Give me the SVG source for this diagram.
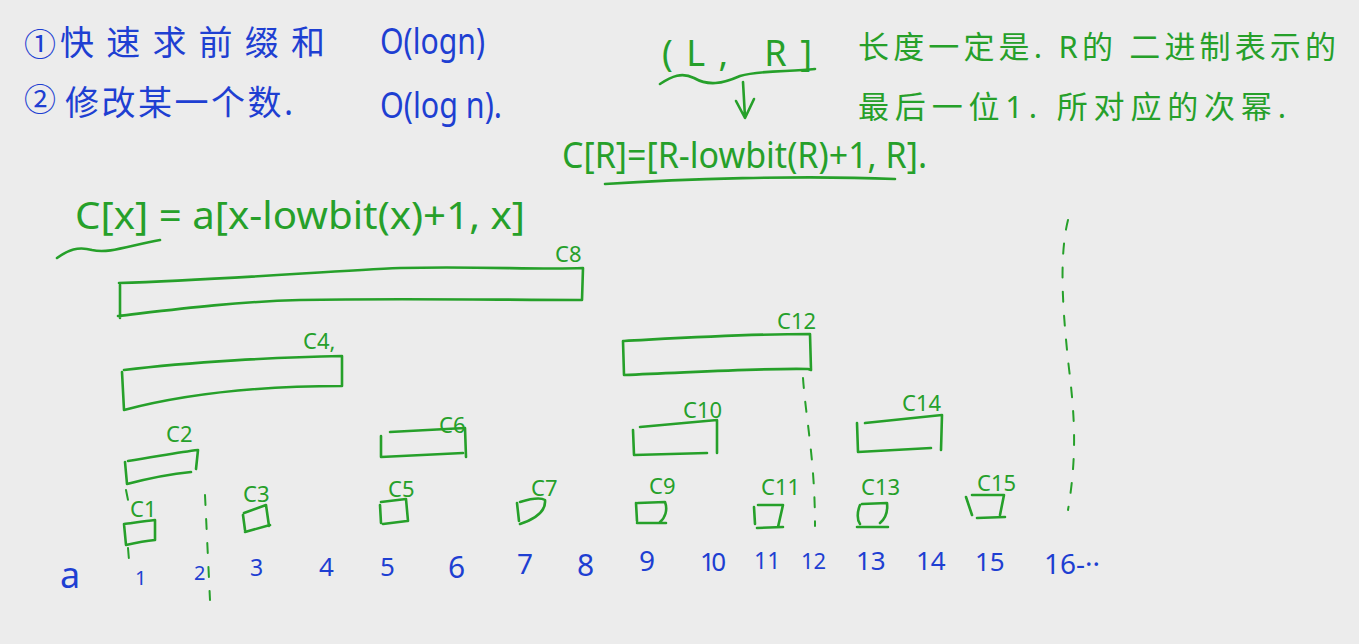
<svg xmlns="http://www.w3.org/2000/svg" width="1359" height="644" viewBox="0 0 1359 644">
<style>
.g{fill:none;stroke:#26a02a;stroke-width:2.6;stroke-linecap:round;stroke-linejoin:round}
.d{fill:none;stroke:#26a02a;stroke-width:2;stroke-linecap:round;stroke-dasharray:10 14}
.gt{fill:#26a02a;font-family:"Noto Sans","Noto Sans CJK SC",sans-serif}
.bt{fill:#1e3fd2;font-family:"Noto Sans","Noto Sans CJK SC",sans-serif}
.lbl{fill:#26a02a;font-family:"Noto Sans",sans-serif;font-size:22px}
.num{fill:#1e3fd2;font-family:"Noto Sans",sans-serif}
</style>
<rect width="1359" height="644" fill="#ececec"/>
<g id="notes-blue">
<text class="bt" x="24" y="56" font-size="32">①</text>
<text class="bt" x="60" y="55" font-size="34" textLength="265" lengthAdjust="spacing">快速求前缀和</text>
<text class="bt" x="380" y="54" font-size="36" textLength="105" lengthAdjust="spacingAndGlyphs">O(logn)</text>
<text class="bt" x="24" y="111" font-size="32">②</text>
<text class="bt" x="65" y="115" font-size="34" textLength="228" lengthAdjust="spacing">修改某一个数.</text>
<text class="bt" x="380" y="118" font-size="36" textLength="122" lengthAdjust="spacingAndGlyphs">O(log n).</text>
</g>
<g id="notes-green">
<text class="gt" x="662" y="66" font-size="36" textLength="150" lengthAdjust="spacing">(L, R]</text>
<text class="gt" x="858" y="58" font-size="31" textLength="478" lengthAdjust="spacing">长度一定是. R的 二进制表示的</text>
<text class="gt" x="858" y="118" font-size="31" textLength="428" lengthAdjust="spacing">最后一位1. 所对应的次幂.</text>
<text class="gt" x="562" y="168" font-size="36" textLength="365" lengthAdjust="spacingAndGlyphs">C[R]=[R-lowbit(R)+1, R].</text>
<text class="gt" x="75" y="229" font-size="38" textLength="450" lengthAdjust="spacingAndGlyphs">C[x] = a[x-lowbit(x)+1, x]</text>
<path class="g" d="M660,84 C672,76 682,72 694,78 C708,86 722,84 740,76 C760,70 790,72 815,69"/>
<path class="g" d="M605,184 C680,179 800,175 895,179"/>
<path class="g" d="M57,258 C68,250 78,246 92,250 C108,254 128,246 160,240"/>
</g>
<g id="connectors">
<path class="g" d="M743,82 L745,117 M736,101 L745,118 L754,99"/>
<path class="d" d="M205,495 L210,600"/>
<path class="d" d="M126,490 L128,500 M128,548 L129,560"/>
<path class="d" d="M803,378 C806,420 815,460 815,526"/>
<path class="d" d="M1068,220 C1058,260 1064,320 1068,360 C1074,410 1078,450 1068,510"/>
</g>
<g id="C8"><path class="g" d="M120,285 L120,318 M119,283 C220,280 330,271 400,268 C480,266 540,270 583,268 L582,300 C500,300 400,298 300,300 C230,302 170,310 118,316"/><text class="lbl" x="555" y="262">C8</text></g>
<g id="C4"><path class="g" d="M122,372 L124,410 M124,370 C190,362 280,357 342,356 L342,386 C280,386 200,390 124,410"/><text class="lbl" x="303" y="349">C4,</text></g>
<g id="C2"><path class="g" d="M125,462 L127,484 M128,461 C160,456 180,452 198,450 L196,469 M127,484 C150,478 170,474 191,472"/><text class="lbl" x="166" y="442">C2</text></g>
<g id="C6"><path class="g" d="M381,436 L381,457 L463,453 M390,432 L465,428 L466,457"/><text class="lbl" x="439" y="433">C6</text></g>
<g id="C12"><path class="g" d="M623,341 L624,375 C700,372 760,368 808,369 L811,370 L810,334 C740,334 680,338 624,341"/><text class="lbl" x="777" y="329">C12</text></g>
<g id="C10"><path class="g" d="M633,430 L634,455 L707,453 M640,427 L717,420 L717,453"/><text class="lbl" x="683" y="418">C10</text></g>
<g id="C14"><path class="g" d="M857,423 L858,452 L931,448 M865,423 L942,415 L941,450"/><text class="lbl" x="902" y="411">C14</text></g>
<g id="C1"><path class="g" d="M124,524 L126,545 C135,543 145,541 155,540 L155,520 C145,521 132,523 124,524"/><text class="lbl" x="130" y="517">C1</text></g>
<g id="C3"><path class="g" d="M243,515 L245,530 M244,513 L266,505 L269,526 M245,532 L270,525"/><text class="lbl" x="243" y="502">C3</text></g>
<g id="C5"><path class="g" d="M380,505 L381,523 M381,502 L406,499 L408,521 M383,524 L407,521"/><text class="lbl" x="388" y="497">C5</text></g>
<g id="C7"><path class="g" d="M517,503 L519,521 M520,502 C530,499 540,497 545,500 C546,510 538,518 520,524"/><text class="lbl" x="531" y="496">C7</text></g>
<g id="C9"><path class="g" d="M636,503 L637,521 M638,503 L665,502 C668,510 665,518 660,522 M637,523 L666,523"/><text class="lbl" x="649" y="494">C9</text></g>
<g id="C11"><path class="g" d="M754,507 L755,524 M758,505 L783,505 L778,527 M757,528 L783,527"/><text class="lbl" x="761" y="495">C11</text></g>
<g id="C13"><path class="g" d="M860,505 C857,512 857,520 860,524 M862,504 L887,503 C888,512 886,518 880,523 M857,527 L888,527"/><text class="lbl" x="861" y="495">C13</text></g>
<g id="C15"><path class="g" d="M966,497 L972,515 M972,495 L1004,495 L1000,515 M977,518 L1005,517"/><text class="lbl" x="977" y="491">C15</text></g>
<g id="array" font-size="26">
<text class="num" x="60" y="588" font-size="36">a</text>
<text class="num" x="135" y="585" font-size="20">1</text>
<text class="num" x="194" y="580" font-size="20">2</text>
<text class="num" x="250" y="576" font-size="23">3</text>
<text class="num" x="319" y="576">4</text>
<text class="num" x="380" y="576">5</text>
<text class="num" x="448" y="578" font-size="30">6</text>
<text class="num" x="517" y="574" font-size="28">7</text>
<text class="num" x="577" y="576" font-size="30">8</text>
<text class="num" x="639" y="571" font-size="28">9</text>
<text class="num" x="700" y="571" textLength="26">10</text>
<text class="num" x="754" y="569" font-size="23">11</text>
<text class="num" x="801" y="569" font-size="22">12</text>
<text class="num" x="856" y="570">13</text>
<text class="num" x="916" y="570">14</text>
<text class="num" x="975" y="571">15</text>
<text class="num" x="1044" y="574" font-size="28">16-··</text>
</g>
</svg>
